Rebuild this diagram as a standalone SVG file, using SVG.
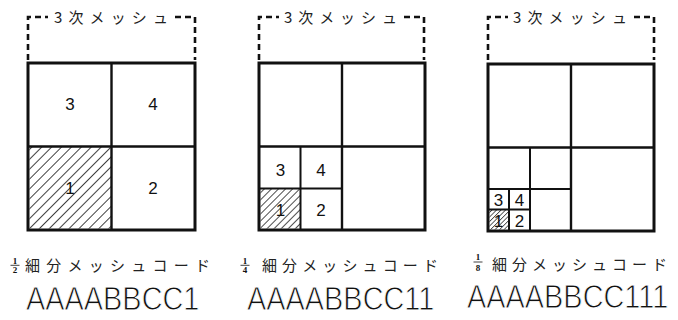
<svg xmlns="http://www.w3.org/2000/svg" width="678" height="320" viewBox="0 0 678 320">
<defs>
<pattern id="h1" width="7" height="10" patternUnits="userSpaceOnUse" patternTransform="rotate(45)"><line x1="0" y1="0" x2="0" y2="10" stroke="#000" stroke-width="1.5"/></pattern>
<pattern id="h2" width="5" height="10" patternUnits="userSpaceOnUse" patternTransform="rotate(45)"><line x1="0" y1="0" x2="0" y2="10" stroke="#000" stroke-width="1.4"/></pattern>
<pattern id="h3" width="3.2" height="10" patternUnits="userSpaceOnUse" patternTransform="rotate(45)"><line x1="0" y1="0" x2="0" y2="10" stroke="#000" stroke-width="1.2"/></pattern>
</defs>
<style>
.box{fill:#fff;stroke:#111;stroke-width:3}
.div{fill:none;stroke:#111;stroke-width:2.4}
.thin{fill:none;stroke:#111;stroke-width:2}
.br{fill:none;stroke:#111;stroke-width:2.6;stroke-dasharray:6 4}
.jt{font-family:"Noto Sans CJK JP",sans-serif;font-size:15px;fill:#222}
.num{font-family:"Liberation Sans",Arial,sans-serif;font-size:17px;fill:#111;text-anchor:middle}
.sm{font-family:"Liberation Sans",Arial,sans-serif;font-size:17px;fill:#111;text-anchor:middle}
.fr{font-family:"Liberation Serif",serif;font-size:9px;font-weight:bold;fill:#111;text-anchor:middle}
.code{font-family:"Liberation Sans",Arial,sans-serif;font-size:34px;fill:#111;stroke:#fff;stroke-width:0.9}
</style>
<rect width="678" height="320" fill="#fff"/>

<g id="connectors">
<path class="br" d="M28 60 V17 H48 M175 17 H195 V60"/>
<path class="br" d="M259 60 V17 H279 M404 17 H424 V60"/>
<path class="br" d="M488 60 V17 H508 M634 17 H654 V60"/>
</g>

<g id="panel1">
<text class="jt" x="54" y="23" textLength="114" lengthAdjust="spacing">3次メッシュ</text>
<rect class="box" x="28" y="63" width="167" height="167"/>
<rect x="29.5" y="146.5" width="82" height="82" fill="url(#h1)"/>
<path class="div" d="M111.5 63 V230 M28 146.5 H195"/>
<text class="num" x="70" y="110">3</text>
<text class="num" x="153" y="110">4</text>
<text class="num" x="70" y="194">1</text>
<text class="num" x="153" y="194">2</text>
<text class="fr" x="15" y="264">1</text>
<line x1="10.5" y1="265.3" x2="19.5" y2="265.3" stroke="#111" stroke-width="0.8"/>
<text class="fr" x="15" y="273">2</text>
<text class="jt" x="25" y="271" textLength="185" lengthAdjust="spacing">細分メッシュコード</text>
<text class="code" transform="matrix(0.85 0 0 1 26 310)">AAAABBCC1</text>
</g>

<g id="panel2">
<text class="jt" x="284" y="23" textLength="113" lengthAdjust="spacing">3次メッシュ</text>
<rect class="box" x="259" y="63" width="166" height="167"/>
<rect x="260.5" y="188.5" width="40" height="40" fill="url(#h2)"/>
<path class="div" d="M342 63 V230 M259 146.5 H425"/>
<path class="thin" d="M300.5 146.5 V230 M259 188.5 H342"/>
<text class="num" x="280.5" y="176">3</text>
<text class="num" x="321" y="176">4</text>
<text class="num" x="280.5" y="216">1</text>
<text class="num" x="321" y="216">2</text>
<text class="fr" x="245" y="264">1</text>
<line x1="240.5" y1="265.3" x2="249.5" y2="265.3" stroke="#111" stroke-width="0.8"/>
<text class="fr" x="245" y="273">4</text>
<text class="jt" x="262" y="271" textLength="176" lengthAdjust="spacing">細分メッシュコード</text>
<text class="code" transform="matrix(0.85 0 0 1 247 310)">AAAABBCC11</text>
</g>

<g id="panel3">
<text class="jt" x="513" y="23" textLength="114" lengthAdjust="spacing">3次メッシュ</text>
<rect class="box" x="488" y="64" width="166" height="167"/>
<rect x="489.5" y="209.5" width="19.5" height="20" fill="url(#h3)"/>
<path class="div" d="M571 64 V231 M488 147.5 H654"/>
<path class="thin" d="M530 147.5 V231 M488 189 H571"/>
<path class="thin" d="M509 189 V231 M488 209.5 H530"/>
<text class="sm" x="498.5" y="205.5">3</text>
<text class="sm" x="519.5" y="205.5">4</text>
<text class="sm" x="498.5" y="226.5">1</text>
<text class="sm" x="519.5" y="226.5">2</text>
<text class="fr" x="478" y="260">1</text>
<line x1="473.5" y1="262" x2="482.5" y2="262" stroke="#111" stroke-width="0.8"/>
<text class="fr" x="478" y="271">8</text>
<text class="jt" x="492" y="270" textLength="175" lengthAdjust="spacing">細分メッシュコード</text>
<text class="code" transform="matrix(0.85 0 0 1 467 308)">AAAABBCC111</text>
</g>
</svg>
